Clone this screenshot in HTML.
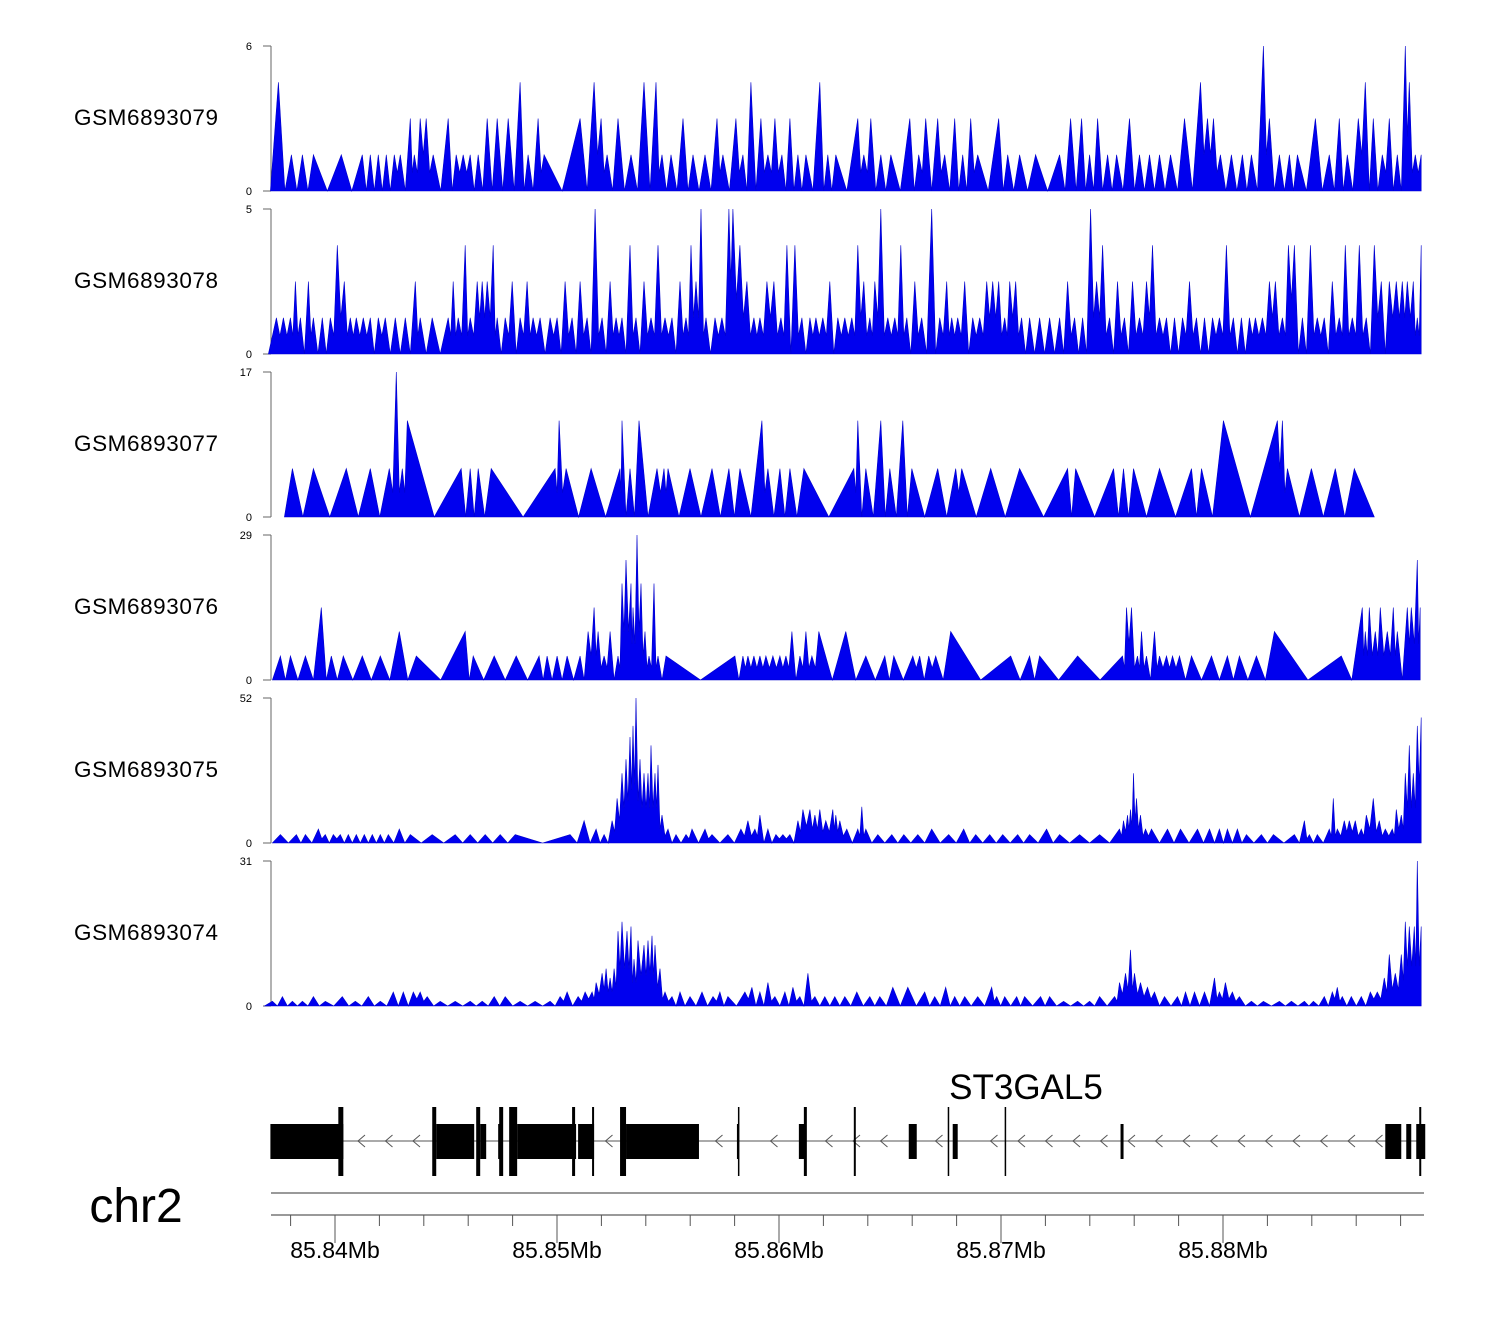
<!DOCTYPE html>
<html><head><meta charset="utf-8"><style>
html,body{margin:0;padding:0;background:#fff;}
svg{display:block;font-family:"Liberation Sans",Arial,sans-serif;}
</style></head><body>
<svg id="chart" width="1500" height="1320" viewBox="0 0 1500 1320" xmlns="http://www.w3.org/2000/svg">
<g id="tracks"></g>
<g id="gene"></g>
<g id="axis"></g>
<text x="1026" y="1099" font-size="35" text-anchor="middle">ST3GAL5</text>
<text x="136" y="1222" font-size="48" text-anchor="middle">chr2</text>
</svg>
<script>
// genomic bins of 45 bp starting at 85,837,000
const BIN_START = 85837000;
const BIN_BP = 45;
const trackNames = ["GSM6893079","GSM6893078","GSM6893077","GSM6893076","GSM6893075","GSM6893074"];
const trackMax = [6,5,17,29,52,31];
const t1Bins = [10,23,34,45,73,94,102,110,118,126,132,142,146,152,158,165,180,188,195,202,210,219,229,240,252,260,270,276,312,326,333,339,350,363,376,388,394,403,415,425,437,449,455,468,475,483,493,500,507,514,522,530,538,552,560,568,590,596,603,613,623,642,651,658,670,677,687,695,703,710,731,740,752,768,792,803,814,822,830,840,849,862,872,882,892,903,917,933,940,946,953,964,975,984,996,1002,1012,1022,1030,1048,1062,1072,1080,1091,1098,1106,1115,1122,1130,1138,1142,1148,1154];
const t1Vals = [4.5,1.5,1.5,1.5,1.5,1.5,1.5,1.5,1.5,1.5,1.5,3,1.5,3,3,1.5,3,1.5,1.5,1.5,1.5,3,3,3,4.5,1.5,3,1.5,3,4.5,3,1.5,3,1.5,4.5,4.5,1.5,1.5,3,1.5,1.5,3,1.5,3,1.5,4.5,3,1.5,3,1.5,3,1.5,1.5,4.5,1.5,1.5,3,1.5,3,1.5,1.5,3,1.5,3,3,1.5,3,1.5,3,1.5,3,1.5,1.5,1.5,1.5,3,3,1.5,3,1.5,1.5,3,1.5,1.5,1.5,1.5,3,4.5,3,3,1.5,1.5,1.5,1.5,6,3,1.5,1.5,1.5,3,1.5,3,1.5,3,4.5,3,1.5,3,1.5,6,4.5,1.5,1.5];
const t2Bins = [8,15,22,27,32,40,45,54,62,69,76,82,88,95,102,110,117,127,137,147,152,164,180,185,190,197,202,209,214,219,225,229,237,244,252,259,265,272,282,289,297,304,312,319,327,334,342,348,354,362,368,376,383,390,397,404,412,418,423,428,433,438,447,454,461,465,472,479,486,492,499,506,513,519,527,534,542,548,555,562,570,577,584,590,596,602,607,613,620,627,633,639,647,654,664,672,679,684,690,697,705,712,719,725,731,737,742,748,754,762,772,782,792,800,807,815,823,829,835,842,850,857,865,872,879,885,892,899,907,915,922,929,937,945,952,959,966,974,982,988,995,1002,1008,1015,1021,1027,1035,1043,1050,1057,1065,1072,1078,1085,1092,1099,1107,1114,1122,1129,1135,1140,1146,1150,1154];
const t2Vals = [1.25,1.25,1.25,2.5,1.25,2.5,1.25,1.25,1.25,3.75,2.5,1.25,1.25,1.25,1.25,1.25,1.25,1.25,1.25,2.5,1.25,1.25,1.25,2.5,1.25,3.75,1.25,2.5,2.5,2.5,3.75,1.25,1.25,2.5,1.25,2.5,1.25,1.25,1.25,1.25,2.5,1.25,2.5,1.25,5,1.25,2.5,1.25,1.25,3.75,1.25,2.5,1.25,3.75,1.25,1.25,2.5,1.25,3.75,2.5,5,1.25,1.25,1.25,5,5,3.75,2.5,1.25,1.25,2.5,2.5,1.25,3.75,3.75,1.25,1.25,1.25,1.25,2.5,1.25,1.25,1.25,3.75,2.5,1.25,2.5,5,1.25,1.25,3.75,1.25,2.5,1.25,5,1.25,2.5,1.25,1.25,2.5,1.25,1.25,2.5,2.5,2.5,1.25,2.5,2.5,1.25,1.25,1.25,1.25,1.25,2.5,1.25,1.25,5,2.5,3.75,1.25,2.5,1.25,2.5,1.25,2.5,3.75,1.25,1.25,1.25,1.25,2.5,1.25,1.25,1.25,1.25,3.75,1.25,1.25,1.25,1.25,1.25,2.5,2.5,1.25,3.75,3.75,1.25,3.75,1.25,1.25,2.5,1.25,3.75,1.25,3.75,1.25,3.75,2.5,2.5,2.5,2.5,2.5,2.5,1.25,3.75];
const t3Bins = [24,45,78,102,121,128,134,139,193,202,210,223,287,291,298,323,352,354,362,371,389,396,400,422,444,461,472,494,500,512,522,536,586,590,598,613,622,635,644,670,688,694,723,752,800,808,846,856,866,892,924,934,956,1010,1015,1020,1044,1068,1087];
const t3Vals = [5.67,5.67,5.67,5.67,5.67,17,5.67,11.3,5.67,5.67,5.67,5.67,5.67,11.3,5.67,5.67,5.67,11.3,5.67,11.3,5.67,5.67,5.67,5.67,5.67,5.67,5.67,11.3,5.67,5.67,5.67,5.67,5.67,11.3,5.67,11.3,5.67,11.3,5.67,5.67,5.67,5.67,5.67,5.67,5.67,5.67,5.67,5.67,5.67,5.67,5.67,5.67,11.3,11.3,11.3,5.67,5.67,5.67,5.67];
const t4Bins = [12,22,37,53,63,75,94,112,131,148,197,205,226,248,271,279,289,299,312,320,326,330,336,342,350,354,358,363,365,369,373,377,381,386,390,398,467,475,480,486,492,498,505,512,518,524,532,538,544,551,578,598,617,626,645,652,661,668,683,743,762,772,810,855,859,864,870,874,879,887,892,899,905,912,924,944,960,972,989,1007,1074,1095,1098,1102,1108,1113,1120,1126,1130,1140,1144,1150,1153];
const t4Vals = [4.8,4.8,4.8,14.5,4.8,4.8,4.8,4.8,9.7,4.8,9.7,4.8,4.8,4.8,4.8,4.8,4.8,4.8,4.8,9.7,14.5,9.7,4.8,9.7,4.8,19.3,24,19.3,14.5,29,19.3,9.7,4.8,19.3,4.8,4.8,4.8,4.8,4.8,4.8,4.8,4.8,4.8,4.8,4.8,9.7,4.8,9.7,4.8,9.7,9.7,4.8,4.8,4.8,4.8,4.8,4.8,4.8,9.7,4.8,4.8,4.8,4.8,4.8,14.5,14.5,4.8,9.7,4.8,9.7,4.8,4.8,4.8,4.8,4.8,4.8,4.8,4.8,4.8,9.7,4.8,14.5,9.7,14.5,9.7,14.5,9.7,14.5,9.7,14.5,14.5,24,14.5];
const t5Bins = [12,28,37,50,57,65,72,80,88,96,104,112,120,131,142,164,187,202,217,232,247,302,316,328,336,344,349,354,358,362,365,368,372,376,380,383,387,390,394,400,408,418,424,437,444,460,473,480,487,492,500,508,515,522,530,535,542,547,552,558,565,568,572,579,590,594,598,610,624,636,650,664,681,696,708,722,735,750,762,779,792,812,832,852,856,860,863,866,869,873,878,884,900,913,930,942,952,960,970,979,994,1006,1027,1037,1042,1050,1062,1066,1070,1077,1082,1088,1094,1099,1106,1112,1118,1125,1129,1134,1138,1142,1146,1150,1154];
const t5Vals = [3,3,3,5,3,3,3,3,3,3,3,3,3,5,3,3,3,3,3,3,3,3,8,5,3,8,16,25,30,38,42,52,30,25,25,35,25,28,10,5,3,3,5,5,3,3,5,8,5,10,5,3,3,3,8,12,12,10,12,8,12,10,8,5,5,13,5,3,3,3,3,5,3,5,3,3,3,3,3,5,3,3,3,5,8,10,12,25,16,10,5,5,5,5,5,5,5,5,5,3,3,3,3,8,3,3,5,16,5,8,8,8,5,10,16,8,5,5,12,10,25,35,25,42,45];
const t6Bins = [4,14,24,34,45,57,74,87,100,112,125,135,145,152,159,172,187,202,214,226,237,252,267,282,292,299,310,317,324,328,334,338,342,346,350,354,359,363,366,370,376,380,384,387,392,397,404,412,422,434,445,452,460,477,484,492,500,507,517,525,532,540,547,557,567,577,589,602,612,625,640,657,667,678,687,697,710,724,729,737,749,757,773,782,796,810,822,832,847,852,858,863,867,873,880,887,897,910,918,927,937,947,952,958,965,972,984,996,1012,1024,1037,1046,1057,1065,1070,1075,1084,1094,1103,1110,1117,1122,1128,1134,1138,1142,1147,1150,1154];
const t6Vals = [1,2,1,1,2,1,2,1,2,1,3,3,3,3,2,1,1,1,1,2,2,1,1,1,2,3,2,3,3,5,7,8,6,8,16,18,16,17,10,14,13,14,15,13,8,3,2,3,2,3,2,3,2,3,4,3,5,2,3,4,2,7,2,2,2,2,3,2,2,4,4,3,2,4,2,2,2,4,2,2,2,2,2,2,1,1,1,2,2,5,7,12,7,5,4,3,2,2,3,3,3,6,3,5,3,2,1,1,1,1,1,1,2,3,4,2,2,2,3,3,6,11,7,11,18,17,17,31,17];
const trackBins = [t1Bins,t2Bins,t3Bins,t4Bins,t5Bins,t6Bins];
const trackVals = [t1Vals,t2Vals,t3Vals,t4Vals,t5Vals,t6Vals];
// gene model features
const exonStarts = [2,168,212,230,249,310,358,469,531,641,685,1118,1139,1149];
const exonEnds =   [75,206,218,232,308,326,431,471,538,649,690,1134,1144,1158];
const tallStarts = [70,164,208,231,241,304,324,352,470,536,586,680,737,1152];
const tallEnds =   [75,168,212,235,249,307,326,358,471,539,588,681,738,1154];
const barBins = [853];
const axisTicksMb = [85.838,85.840,85.842,85.844,85.846,85.848,85.850,85.852,85.854,85.856,85.858,85.860,85.862,85.864,85.866,85.868,85.870,85.872,85.874,85.876,85.878,85.880,85.882,85.884,85.886,85.888];
const axisLabels = ["85.84Mb","85.85Mb","85.86Mb","85.87Mb","85.88Mb"];
const axisLabelMb = [85.84,85.85,85.86,85.87,85.88];

const NS="http://www.w3.org/2000/svg";
function x(bp){return 335+(bp-85840000)/10000*222;}
function xb(bin){return x(BIN_START+bin*BIN_BP);}
function mk(tag,attrs,parent){const e=document.createElementNS(NS,tag);for(const k in attrs)e.setAttribute(k,attrs[k]);parent.appendChild(e);return e;}
const L=271,R=1422;
const tracksG=document.getElementById('tracks');
trackNames.forEach((name,i)=>{
  const top=46+i*163, base=top+145;
  const y=v=>base-v/trackMax[i]*145;
  const g=mk('g',{},tracksG);
  
  
  const lab=mk('text',{x:74,y:top+79,'font-size':22.5,textLength:144},g);
  lab.textContent=name;
  
  
  const ax=mk('path',{d:`M${L} ${top}V${base}M${L-8} ${top}H${L}M${L-8} ${base}H${L}`,stroke:'#666','stroke-width':1,fill:'none'},g);
  
  
  const tmax=mk('text',{x:252,y:top+4,'font-size':11,'text-anchor':'end'},g);
  tmax.textContent=trackMax[i];
  
  
  const tmin=mk('text',{x:252,y:base+4,'font-size':11,'text-anchor':'end'},g);
  tmin.textContent='0';
  
  
  const bins=trackBins[i], vals=trackVals[i];
  let d=`M${xb(bins[0]-8).toFixed(1)} ${base}`;
  for(let k=0;k<bins.length;k++){
    if(k>0){
      const gap=bins[k]-bins[k-1];
      const vv=gap>7?0:Math.min(vals[k],vals[k-1])*0.5;
      d+=`L${xb((bins[k]+bins[k-1])/2).toFixed(1)} ${y(vv).toFixed(1)}`;
    }
    d+=`L${Math.min(R,xb(bins[k])).toFixed(1)} ${y(vals[k]).toFixed(1)}`;
  }
  const last=bins[bins.length-1];
  d+=`L${Math.min(R,xb(last+(last>1140?0:20))).toFixed(1)} ${base}Z`;
  const p=mk('path',{d:d,fill:'#0000ee',stroke:'#0000cc','stroke-width':0.6},g);
  
  
});
// gene
const gg=document.getElementById('gene');
const intr=mk('line',{x1:L,x2:R,y1:1141,y2:1141,stroke:'#777','stroke-width':1.2},gg);


function inExon(px){for(let k=0;k<exonStarts.length;k++){if(px>=xb(exonStarts[k])-6&&px<=xb(exonEnds[k])+8)return true;}return false;}
for(let px=360;px<1390;px+=27.5){
  if(inExon(px))continue;
  const a=mk('path',{d:`M${px+5} 1135L${px-2} 1141L${px+5} 1147`,stroke:'#555','stroke-width':1,fill:'none'},gg);
  
  
}
for(let k=0;k<exonStarts.length;k++){
  const r=mk('rect',{x:xb(exonStarts[k]),y:1124,width:Math.max(2,xb(exonEnds[k])-xb(exonStarts[k])),height:35,fill:'#000'},gg);
  
  
}
for(let k=0;k<tallStarts.length;k++){
  const r=mk('rect',{x:xb(tallStarts[k]),y:1107,width:Math.max(1.5,xb(tallEnds[k])-xb(tallStarts[k])),height:69,fill:'#000'},gg);
  
  
}
barBins.forEach(b=>{
  const r=mk('rect',{x:xb(b),y:1124,width:3,height:35,fill:'#000'},gg);
  
  
});
// axis
const ag=document.getElementById('axis');
const sep=mk('line',{x1:L,x2:1424,y1:1193,y2:1193,stroke:'#333','stroke-width':1},ag);


const al=mk('line',{x1:L,x2:1424,y1:1215,y2:1215,stroke:'#333','stroke-width':1},ag);


axisTicksMb.forEach(m=>{
  const px=x(m*1e6);
  const major=axisLabelMb.some(v=>Math.abs(v-m)<1e-6);
  const t=mk('line',{x1:px,x2:px,y1:1215,y2:major?1243:1226,stroke:'#555','stroke-width':1},ag);
  
  
});
axisLabels.forEach((s,k)=>{
  const t=mk('text',{x:x(axisLabelMb[k]*1e6),y:1258,'font-size':23,'text-anchor':'middle'},ag);
  t.textContent=s;
  
  
});
</script>
</body></html>
